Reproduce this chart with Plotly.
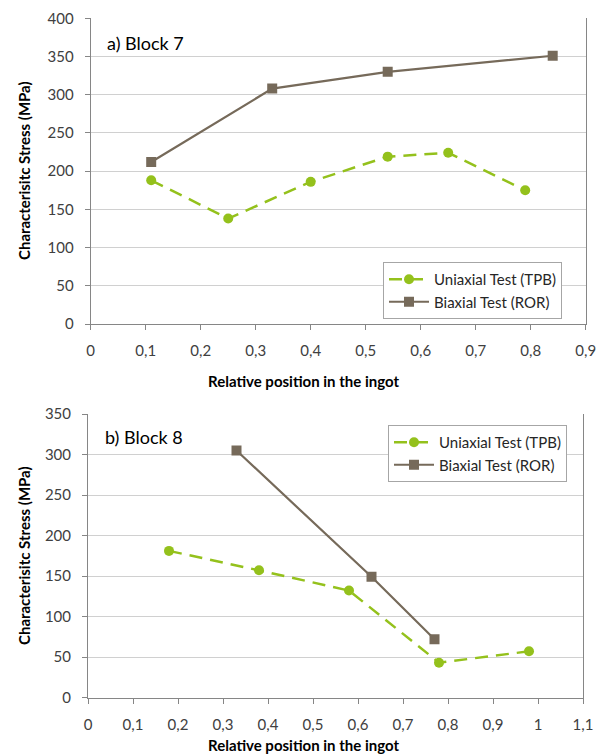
import plotly.graph_objects as go

# ---- Data ----
# Block 7
b7_uni_x = [0.11, 0.25, 0.40, 0.54, 0.65, 0.79]
b7_uni_y = [188, 138, 186, 219, 224, 175]
b7_bi_x = [0.11, 0.33, 0.54, 0.84]
b7_bi_y = [212, 308, 330, 351]
# Block 8
b8_uni_x = [0.18, 0.38, 0.58, 0.78, 0.98]
b8_uni_y = [181, 157, 132, 43, 57]
b8_bi_x = [0.33, 0.63, 0.77]
b8_bi_y = [305, 149, 72]

series_names = ["Uniaxial Test (TPB)", "Biaxial Test (ROR)"]

x7_ticks = [0, 0.1, 0.2, 0.3, 0.4, 0.5, 0.6, 0.7, 0.8, 0.9]
x7_labels = ["0", "0,1", "0,2", "0,3", "0,4", "0,5", "0,6", "0,7", "0,8", "0,9"]
x8_ticks = [0, 0.1, 0.2, 0.3, 0.4, 0.5, 0.6, 0.7, 0.8, 0.9, 1.0, 1.1]
x8_labels = ["0", "0,1", "0,2", "0,3", "0,4", "0,5", "0,6", "0,7", "0,8", "0,9", "1", "1,1"]
y7_ticks = [0, 50, 100, 150, 200, 250, 300, 350, 400]
y8_ticks = [0, 50, 100, 150, 200, 250, 300, 350]

GREEN = "#94C11C"
BROWN = "#766A5A"
FONT = "Lato"
W, H = 603, 756
DASH = "13px,8px"

fig = go.Figure()

fig.add_trace(go.Scatter(x=b7_uni_x, y=b7_uni_y, name=series_names[0], mode="lines+markers",
                         line=dict(color=GREEN, width=2.5, dash=DASH),
                         marker=dict(symbol="circle", size=10, color=GREEN),
                         xaxis="x", yaxis="y", legend="legend"))
fig.add_trace(go.Scatter(x=b7_bi_x, y=b7_bi_y, name=series_names[1], mode="lines+markers",
                         line=dict(color=BROWN, width=2.2),
                         marker=dict(symbol="square", size=10, color=BROWN),
                         xaxis="x", yaxis="y", legend="legend"))
fig.add_trace(go.Scatter(x=b8_uni_x, y=b8_uni_y, name=series_names[0], mode="lines+markers",
                         line=dict(color=GREEN, width=2.5, dash=DASH),
                         marker=dict(symbol="circle", size=10, color=GREEN),
                         xaxis="x2", yaxis="y2", legend="legend2"))
fig.add_trace(go.Scatter(x=b8_bi_x, y=b8_bi_y, name=series_names[1], mode="lines+markers",
                         line=dict(color=BROWN, width=2.2),
                         marker=dict(symbol="square", size=10, color=BROWN),
                         xaxis="x2", yaxis="y2", legend="legend2"))

def px_x(p):
    return p / W

def px_y(p):
    return 1 - p / H

axis_common = dict(showline=True, linecolor="#868686", linewidth=1, ticks="outside",
                   ticklen=5, tickcolor="#868686", zeroline=False, automargin=False,
                   tickfont=dict(family=FONT, size=15, color="#404040"))

fig.update_layout(
    width=W, height=H,
    margin=dict(l=0, r=0, t=0, b=0, autoexpand=False),
    plot_bgcolor="white", paper_bgcolor="white",
    showlegend=True,
    xaxis=dict(domain=[px_x(90.7), px_x(585.7)], anchor="y", range=[0, 0.9],
               tickvals=x7_ticks, ticktext=x7_labels, showgrid=False,
               ticklabelstandoff=8, **axis_common),
    yaxis=dict(domain=[px_y(324), px_y(18.3)], anchor="x", range=[0, 400],
               tickvals=y7_ticks, showgrid=True, gridcolor="#D0D0D0", mirror=True,
               ticklabelstandoff=8, **axis_common),
    xaxis2=dict(domain=[px_x(88), px_x(583)], anchor="y2", range=[0, 1.1],
                tickvals=x8_ticks, ticktext=x8_labels, showgrid=False,
                ticklabelstandoff=8, **axis_common),
    yaxis2=dict(domain=[px_y(697.5), px_y(414)], anchor="x2", range=[0, 350],
                tickvals=y8_ticks, showgrid=True, gridcolor="#D0D0D0", mirror=True,
                ticklabelstandoff=8, **axis_common),
    legend=dict(x=px_x(383), y=px_y(262), xanchor="left", yanchor="top",
                bgcolor="white", bordercolor="#A6A6A6", borderwidth=1,
                font=dict(family=FONT, size=15, color="#262626"), itemwidth=40),
    legend2=dict(x=px_x(388), y=px_y(425), xanchor="left", yanchor="top",
                 bgcolor="white", bordercolor="#A6A6A6", borderwidth=1,
                 font=dict(family=FONT, size=15, color="#262626"), itemwidth=40),
)

ann_font_title = dict(family=FONT, size=15, color="#000000")
annotations = [
    dict(text="<b>Characterisitc Stress (MPa)</b>", x=px_x(24), y=px_y(171), xref="paper", yref="paper",
         textangle=-90, showarrow=False, font=ann_font_title, xanchor="center", yanchor="middle"),
    dict(text="<b>Relative position in the ingot</b>", x=px_x(303), y=px_y(381), xref="paper", yref="paper",
         showarrow=False, font=ann_font_title, xanchor="center", yanchor="middle"),
    dict(text="<b>Characterisitc Stress (MPa)</b>", x=px_x(24), y=px_y(556), xref="paper", yref="paper",
         textangle=-90, showarrow=False, font=ann_font_title, xanchor="center", yanchor="middle"),
    dict(text="<b>Relative position in the ingot</b>", x=px_x(303), y=px_y(745), xref="paper", yref="paper",
         showarrow=False, font=ann_font_title, xanchor="center", yanchor="middle"),
    dict(text="a) Block 7", x=px_x(105), y=px_y(43), xref="paper", yref="paper",
         showarrow=False, font=dict(family=FONT, size=18, color="#000000"), xanchor="left", yanchor="middle"),
    dict(text="b) Block 8", x=px_x(103), y=px_y(437), xref="paper", yref="paper",
         showarrow=False, font=dict(family=FONT, size=18, color="#000000"), xanchor="left", yanchor="middle"),
]
fig.update_layout(annotations=annotations)

fig.write_html("out.html", config={"displayModeBar": False},
               post_script="document.body.style.margin='0';document.body.style.overflow='hidden';")
